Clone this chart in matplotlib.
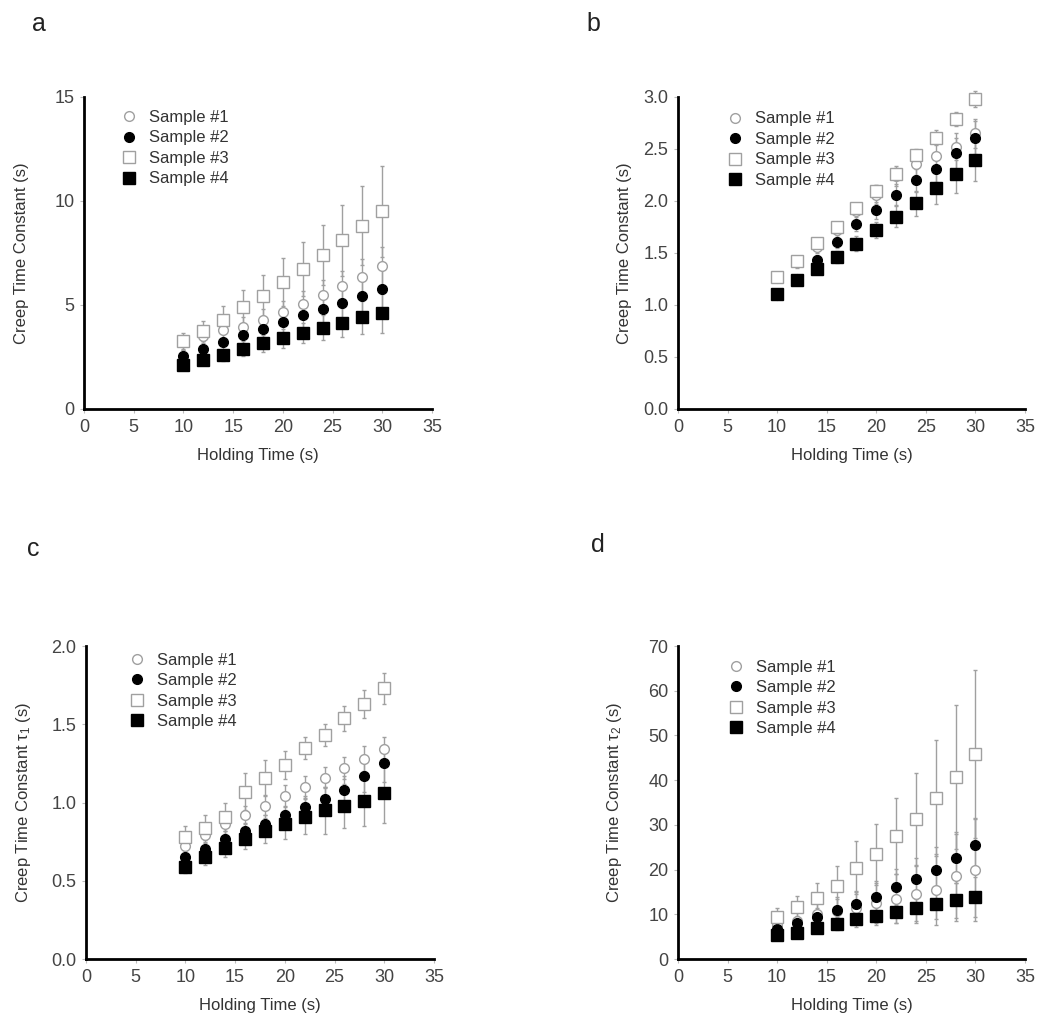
import matplotlib
matplotlib.use("Agg")
from matplotlib import pyplot as plt
import numpy as np

plt.rcParams['font.family'] = ['Liberation Sans', 'DejaVu Sans']
plt.rcParams['mathtext.fontset'] = 'custom'
plt.rcParams['mathtext.rm'] = 'Liberation Sans'
plt.rcParams['mathtext.it'] = 'Liberation Sans:italic'

# Holding time (s)
holding = [10, 12, 14, 16, 18, 20, 22, 24, 26, 28, 30]
labels = ["Sample #1", "Sample #2", "Sample #3", "Sample #4"]

# Panel a - creep time constant (s)
a_s1 = [3.2, 3.5, 3.8, 3.95, 4.3, 4.65, 5.05, 5.5, 5.9, 6.35, 6.85]
a_s2 = [2.55, 2.9, 3.2, 3.55, 3.85, 4.2, 4.5, 4.8, 5.1, 5.45, 5.75]
a_s3 = [3.25, 3.75, 4.3, 4.9, 5.45, 6.1, 6.75, 7.4, 8.1, 8.8, 9.5]
a_s4 = [2.1, 2.35, 2.6, 2.9, 3.15, 3.4, 3.65, 3.9, 4.15, 4.4, 4.6]
a_e1 = [0.3, 0.35, 0.4, 0.45, 0.5, 0.55, 0.6, 0.7, 0.75, 0.85, 0.95]
a_e2 = [0.3, 0.35, 0.4, 0.45, 0.5, 0.6, 0.7, 0.8, 0.9, 1.0, 1.1]
a_e3 = [0.4, 0.5, 0.65, 0.8, 1.0, 1.15, 1.3, 1.45, 1.7, 1.9, 2.2]
a_e4 = [0.2, 0.25, 0.3, 0.35, 0.4, 0.45, 0.5, 0.6, 0.7, 0.8, 0.95]

# Panel b - creep time constant (s)
b_s1 = [1.26, 1.41, 1.56, 1.72, 1.9, 2.06, 2.24, 2.36, 2.43, 2.52, 2.65]
b_s2 = [1.1, 1.25, 1.43, 1.61, 1.78, 1.91, 2.06, 2.2, 2.31, 2.46, 2.61]
b_s3 = [1.27, 1.42, 1.6, 1.75, 1.93, 2.1, 2.26, 2.44, 2.61, 2.79, 2.98]
b_s4 = [1.11, 1.24, 1.35, 1.46, 1.59, 1.72, 1.85, 1.98, 2.12, 2.26, 2.39]
b_e1 = [0.04, 0.05, 0.06, 0.07, 0.08, 0.09, 0.1, 0.11, 0.12, 0.13, 0.14]
b_e2 = [0.03, 0.04, 0.05, 0.06, 0.07, 0.08, 0.1, 0.11, 0.13, 0.15, 0.16]
b_e3 = [0.03, 0.03, 0.04, 0.04, 0.05, 0.05, 0.06, 0.06, 0.07, 0.07, 0.08]
b_e4 = [0.03, 0.04, 0.05, 0.06, 0.07, 0.08, 0.1, 0.12, 0.15, 0.18, 0.2]

# Panel c - creep time constant tau1 (s)
c_s1 = [0.72, 0.79, 0.86, 0.92, 0.98, 1.04, 1.1, 1.16, 1.22, 1.28, 1.34]
c_s2 = [0.65, 0.7, 0.77, 0.82, 0.86, 0.92, 0.97, 1.02, 1.08, 1.17, 1.25]
c_s3 = [0.78, 0.84, 0.91, 1.07, 1.16, 1.24, 1.35, 1.43, 1.54, 1.63, 1.73]
c_s4 = [0.59, 0.65, 0.71, 0.77, 0.82, 0.86, 0.91, 0.95, 0.98, 1.01, 1.06]
c_e1 = [0.05, 0.05, 0.06, 0.06, 0.06, 0.07, 0.07, 0.07, 0.07, 0.08, 0.08]
c_e2 = [0.04, 0.05, 0.05, 0.05, 0.06, 0.06, 0.07, 0.08, 0.09, 0.1, 0.12]
c_e3 = [0.07, 0.08, 0.09, 0.12, 0.11, 0.09, 0.07, 0.07, 0.08, 0.09, 0.1]
c_e4 = [0.04, 0.05, 0.06, 0.07, 0.08, 0.09, 0.11, 0.15, 0.14, 0.16, 0.19]

# Panel d - creep time constant tau2 (s)
d_s1 = [7.5, 8.5, 10.0, 10.8, 11.5, 12.5, 13.5, 14.5, 15.5, 18.5, 19.9]
d_s2 = [6.8, 8.1, 9.4, 11.0, 12.2, 13.9, 16.1, 18.0, 20.0, 22.5, 25.6]
d_s3 = [9.4, 11.6, 13.7, 16.3, 20.4, 23.4, 27.5, 31.3, 36.0, 40.7, 45.8]
d_s4 = [5.3, 5.9, 7.0, 7.9, 8.9, 9.6, 10.5, 11.5, 12.4, 13.1, 13.9]
d_e1 = [1.5, 2.0, 2.5, 3.0, 3.5, 4.5, 5.5, 6.5, 8.0, 10.0, 11.5]
d_e2 = [1.2, 1.5, 2.0, 2.5, 3.0, 3.5, 4.0, 4.5, 5.0, 5.5, 6.0]
d_e3 = [2.1, 2.5, 3.4, 4.5, 5.9, 6.9, 8.5, 10.4, 13.0, 16.2, 18.8]
d_e4 = [0.8, 1.0, 1.2, 1.5, 1.8, 2.1, 2.5, 3.0, 3.5, 4.0, 4.5]

grey = "#a0a0a0"
styles = [
    dict(marker="o", mfc="white", mec=grey, ms=7),
    dict(marker="o", mfc="black", mec="black", ms=7),
    dict(marker="s", mfc="white", mec=grey, ms=8),
    dict(marker="s", mfc="black", mec="black", ms=8),
]

panels = [
    ("a", [0.080, 0.6014, 0.3314, 0.3041], [a_s1, a_s2, a_s3, a_s4], [a_e1, a_e2, a_e3, a_e4],
     (0, 15), [0, 5, 10, 15], "{:.0f}", "Creep Time Constant (s)", (0.037, 0.977)),
    ("b", [0.6457, 0.6014, 0.3305, 0.3041], [b_s1, b_s2, b_s3, b_s4], [b_e1, b_e2, b_e3, b_e4],
     (0, 3.0), [0, 0.5, 1.0, 1.5, 2.0, 2.5, 3.0], "{:.1f}", "Creep Time Constant (s)", (0.565, 0.977)),
    ("c", [0.0819, 0.0653, 0.3314, 0.3050], [c_s1, c_s2, c_s3, c_s4], [c_e1, c_e2, c_e3, c_e4],
     (0, 2.0), [0, 0.5, 1.0, 1.5, 2.0], "{:.1f}", r"Creep Time Constant $\mathregular{\tau_1}$ (s)", (0.032, 0.465)),
    ("d", [0.6457, 0.0653, 0.3305, 0.3050], [d_s1, d_s2, d_s3, d_s4], [d_e1, d_e2, d_e3, d_e4],
     (0, 70), [0, 10, 20, 30, 40, 50, 60, 70], "{:.0f}", r"Creep Time Constant $\mathregular{\tau_2}$ (s)", (0.569, 0.469)),
]

legend_anchor = {"a": (0.08, 0.98), "b": (0.115, 0.975), "c": (0.098, 1.0), "d": (0.12, 0.978)}
ylabel_pad = {"a": 18, "b": 8, "c": 13, "d": 17}

fig = plt.figure(figsize=(10.5, 10.26), dpi=100)

for letter, rect, series, errs, ylim, yticks, fmt, ylabel, lpos in panels:
    ax = fig.add_axes(rect)
    handles = []
    for s, e, st, lab in zip(series, errs, styles, labels):
        ax.errorbar(holding, s, yerr=e, fmt="none", ecolor=grey, elinewidth=1,
                    capsize=1.5, capthick=1, zorder=2, clip_on=False)
        line, = ax.plot(holding, s, linestyle="none", mew=1, label=lab, zorder=3,
                        clip_on=False, **st)
        handles.append(line)
    ax.set_xlim(0, 35)
    ax.set_ylim(*ylim)
    ax.set_xticks(range(0, 36, 5))
    ax.set_yticks(yticks)
    ax.set_yticklabels([fmt.format(v) for v in yticks])
    ax.spines["top"].set_visible(False)
    ax.spines["right"].set_visible(False)
    for sp in ("left", "bottom"):
        ax.spines[sp].set_linewidth(2)
    ax.tick_params(length=3, width=0.8, color="#bbbbbb", labelsize=13, labelcolor="#444444", pad=4)
    ax.set_xlabel("Holding Time (s)", fontsize=12, color="#333333", labelpad=9)
    ax.set_ylabel(ylabel, fontsize=12, color="#333333", labelpad=ylabel_pad[letter])
    ax.legend(handles=handles, loc="upper left", bbox_to_anchor=legend_anchor[letter], frameon=False,
              fontsize=12, handletextpad=0.6, labelspacing=0.33, borderaxespad=0, handlelength=1.2,
              labelcolor="#333333")
    fig.text(lpos[0], lpos[1], letter, fontsize=18, ha="center", va="center", color="#222222")

fig.savefig("out.png", dpi=100)
